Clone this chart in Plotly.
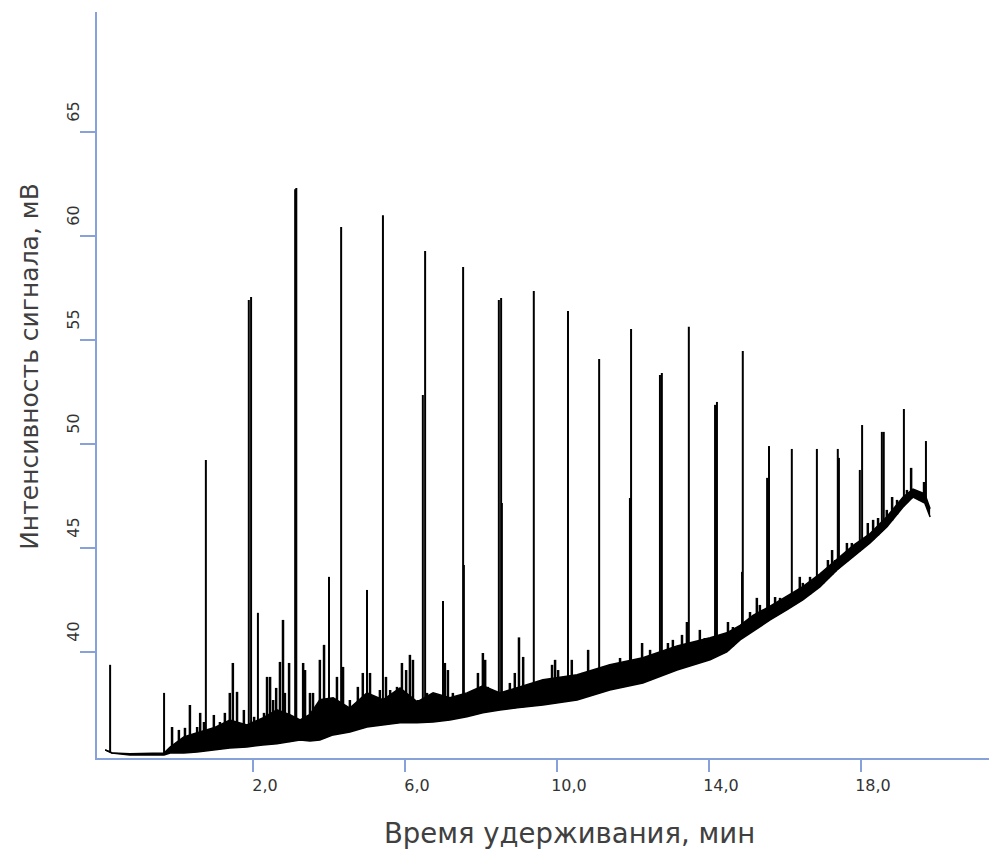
import numpy as np
import plotly.graph_objects as go

# ---- data ----
# dense baseline "grass" band: lower and upper edges
band_t = [-1.89, -1.71, -1.24, -0.34, -0.18, 0.18, 0.53, 0.97, 1.39, 1.84, 2.26, 2.63, 2.97, 3.24, 3.50,
          3.76, 4.11, 4.55, 5.00, 5.42, 5.87, 6.32, 6.74, 7.18, 7.63, 8.05, 8.50, 8.95, 9.63, 10.53,
          11.39, 12.26, 13.16, 14.03, 14.47, 14.82, 15.16, 15.61, 16.05, 16.47, 16.92, 17.37, 17.79, 18.24, 18.68,
          19.11, 19.37, 19.68, 19.82]
band_low = [35.29, 35.14, 35.05, 35.05, 35.14, 35.14, 35.19, 35.29, 35.38, 35.43, 35.53, 35.58, 35.67, 35.77, 35.72,
            35.77, 36.01, 36.15, 36.39, 36.49, 36.59, 36.59, 36.63, 36.73, 36.88, 37.07, 37.21, 37.31, 37.45, 37.69,
            38.17, 38.51, 39.13, 39.62, 40.00, 40.58, 41.01, 41.54, 42.02, 42.50, 43.13, 43.94, 44.57, 45.24, 46.01,
            46.97, 47.45, 47.16, 46.49]
band_high = [35.29, 35.14, 35.10, 35.14, 35.43, 35.91, 36.11, 36.35, 36.73, 36.49, 36.83, 37.22, 36.98, 36.73, 37.00,
             37.70, 37.79, 37.30, 38.03, 37.70, 38.27, 37.60, 38.03, 37.80, 38.03, 38.37, 38.03, 38.27, 38.66, 38.90,
             39.38, 39.72, 40.29, 40.68, 40.92, 41.28, 41.76, 42.20, 42.66, 43.14, 43.76, 44.48, 45.11, 45.69, 46.50,
             47.45, 47.83, 47.60, 46.88]

# small peaks above the band
grass_t = [-0.13, 0.05, 0.21, 0.34, 0.53, 0.61, 0.71, 0.97, 1.13, 1.26, 1.39, 1.47, 1.58, 1.76, 2.03,
           2.29, 2.37, 2.45, 2.53, 2.61, 2.71, 2.79, 2.84, 2.95, 3.03, 3.24, 3.32, 3.37, 3.50, 3.58,
           3.76, 3.87, 4.21, 4.37, 4.55, 4.76, 4.89, 5.08, 5.21, 5.34, 5.50, 5.61, 5.79, 5.92, 6.03,
           6.13, 6.21, 6.34, 6.58, 6.74, 6.87, 7.05, 7.13, 7.26, 7.39, 7.63, 7.79, 7.92, 8.05, 8.11,
           8.18, 8.63, 8.76, 8.89, 9.00, 9.11, 9.21, 9.47, 9.63, 9.87, 9.95, 10.03, 10.16, 10.39, 10.53,
           10.66, 10.82, 10.92, 11.05, 11.21, 11.39, 11.53, 11.66, 11.74, 12.05, 12.24, 12.32, 12.45, 12.53, 12.84,
           12.92, 13.05, 13.16, 13.29, 13.42, 13.63, 13.76, 13.89, 14.03, 14.37, 14.50, 14.63, 15.08, 15.26, 15.34,
           15.74, 15.87, 16.05, 16.39, 16.47, 16.66, 17.00, 17.13, 17.24, 17.32, 17.63, 17.76, 17.89, 18.18, 18.32,
           18.45, 18.68, 18.82, 18.95, 19.21, 19.32, 19.42, 19.55, 19.66]
grass_v = [36.39, 36.25, 36.35, 37.45, 36.39, 37.07, 36.63, 36.97, 36.63, 37.07, 38.03, 39.47, 38.08, 37.21, 36.88,
           37.07, 38.80, 38.80, 37.69, 38.27, 39.52, 41.54, 38.03, 39.47, 36.88, 36.39, 39.47, 39.13, 38.03, 38.03,
           39.62, 40.34, 38.80, 39.28, 37.69, 38.32, 38.99, 38.99, 37.84, 38.17, 38.80, 38.17, 38.32, 39.47, 39.13,
           39.86, 39.62, 37.69, 38.03, 37.12, 37.07, 39.47, 39.13, 38.03, 37.69, 37.84, 38.03, 38.99, 39.95, 39.62,
           38.32, 37.69, 38.51, 38.99, 40.70, 39.76, 38.32, 38.32, 38.17, 39.38, 39.62, 39.13, 38.80, 39.62, 38.65,
           38.99, 40.10, 39.13, 38.99, 38.80, 39.38, 39.13, 39.71, 39.28, 39.28, 40.43, 39.28, 40.10, 39.62, 39.76,
           40.43, 40.58, 40.10, 40.82, 41.44, 40.24, 41.06, 40.67, 40.58, 40.43, 41.44, 41.20, 41.92, 42.60, 42.26,
           42.64, 42.60, 42.50, 43.61, 43.32, 43.61, 43.80, 44.42, 44.90, 44.42, 45.24, 45.24, 45.24, 46.20, 46.35,
           46.44, 46.83, 47.45, 47.31, 47.79, 48.85, 47.64, 47.45, 48.17]

# main peaks (closely spaced pairs are double/broad peaks and shoulders)
peak_t = [-1.76, -0.34, 0.76, 1.89, 1.95, 2.13, 3.11, 3.14, 4.00, 4.32, 5.00, 5.42, 6.47, 6.53, 7.00,
          7.53, 7.55, 8.47, 8.53, 8.55, 9.39, 10.29, 11.11, 11.92, 11.95, 12.71, 12.76, 13.47, 14.16, 14.21,
          14.87, 14.89, 15.53, 15.58, 16.18, 16.84, 17.39, 17.42, 17.97, 18.03, 18.55, 18.60, 19.13, 19.71]
peak_v = [39.38, 38.03, 49.23, 56.92, 57.07, 41.88, 62.25, 62.31, 43.61, 60.43, 42.98, 61.00, 52.36, 59.28, 42.45,
          58.51, 44.18, 56.92, 57.02, 47.16, 57.36, 56.39, 54.09, 47.40, 55.53, 53.32, 53.41, 55.63, 51.88, 52.02,
          43.85, 54.47, 48.37, 49.90, 49.76, 49.76, 49.76, 49.33, 48.75, 50.91, 50.58, 50.58, 51.68, 50.14]

x_ticks = [2, 6, 10, 14, 18]
x_tick_text = ["2,0", "6,0", "10,0", "14,0", "18,0"]
y_ticks = [40, 45, 50, 55, 60, 65]
y_tick_text = ["40", "45", "50", "55", "60", "65"]

x_title = "Время удерживания, мин"
y_title = "Интенсивность сигнала, мВ"


def spikes(ts, vs):
    xs, ys = [], []
    for t, v in zip(ts, vs):
        b = float(np.interp(t, band_t, band_low))
        xs += [t, t, None]
        ys += [b, v, None]
    return xs, ys


fig = go.Figure()
fig.add_trace(go.Scatter(x=band_t, y=band_low, mode="lines",
                         line=dict(color="black", width=1.5), hoverinfo="skip"))
fig.add_trace(go.Scatter(x=band_t, y=band_high, mode="lines", fill="tonexty",
                         fillcolor="black", line=dict(color="black", width=1.5), hoverinfo="skip"))
gx, gy = spikes(grass_t, grass_v)
fig.add_trace(go.Scatter(x=gx, y=gy, mode="lines", line=dict(color="black", width=2.5), hoverinfo="skip"))
px_, py_ = spikes(peak_t, peak_v)
fig.add_trace(go.Scatter(x=px_, y=py_, mode="lines", line=dict(color="black", width=2), hoverinfo="skip"))

axis_blue = "#86a2d8"
fig.update_layout(
    width=989, height=841,
    margin=dict(l=89, r=0, t=4, b=91),
    paper_bgcolor="white", plot_bgcolor="white",
    showlegend=False,
    font=dict(family="DejaVu Sans", size=14, color="#333333"),
    xaxis=dict(range=[-2.105, 21.58], showgrid=False, zeroline=False,
               showline=True, linecolor=axis_blue, linewidth=2,
               ticks="outside", ticklen=12, tickwidth=2, tickcolor=axis_blue,
               tickvals=x_ticks, ticktext=x_tick_text, ticklabelshift=12,
               tickfont=dict(family="DejaVu Sans", size=16, color="#333333")),
    yaxis=dict(range=[34.90, 70.77], showgrid=False, zeroline=False,
               showline=True, linecolor=axis_blue, linewidth=2,
               ticks="outside", ticklen=15, tickwidth=2, tickcolor=axis_blue,
               tickvals=y_ticks, ticktext=y_tick_text, tickangle=-90, ticklabelshift=-18,
               ticklabelstandoff=-5,
               tickfont=dict(family="DejaVu Sans", size=16, color="#333333")),
    annotations=[
        dict(text=x_title, xref="paper", yref="paper", x=0.525, y=-0.10, xanchor="center", yanchor="middle",
             showarrow=False, font=dict(family="DejaVu Sans", size=27.5, color="#404040")),
        dict(text=y_title, xref="paper", yref="paper", x=-0.075, y=0.525, xanchor="center", yanchor="middle",
             textangle=-90, showarrow=False, font=dict(family="DejaVu Sans", size=25, color="#404040")),
    ],
)

fig.write_html("out.html")
